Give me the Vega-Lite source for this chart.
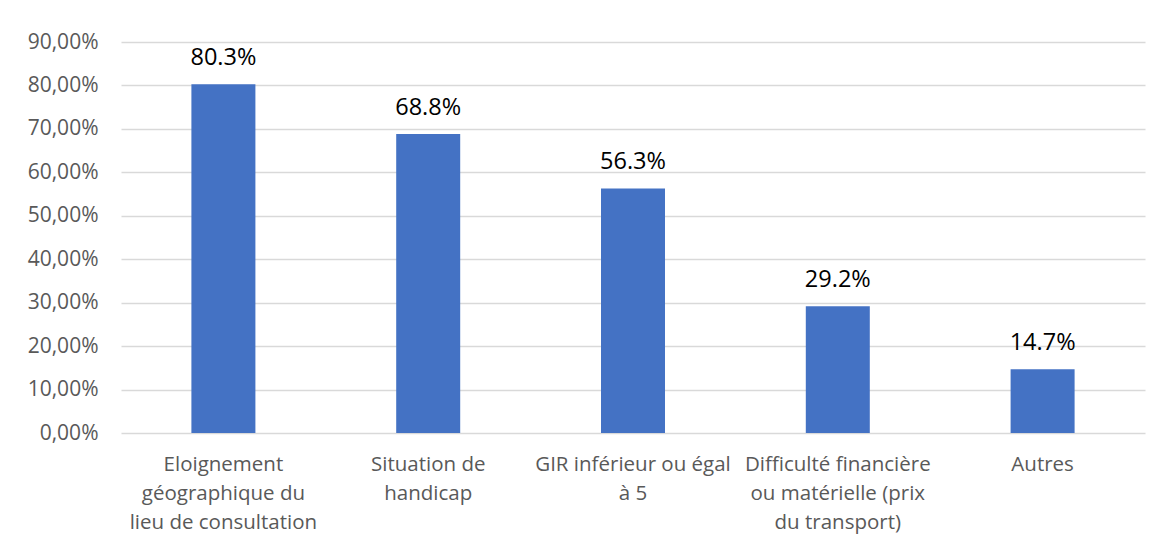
{
  "$schema": "https://vega.github.io/schema/vega-lite/v6.json",
  "autosize": {"type": "none"},
  "width": 1024,
  "height": 391,
  "padding": {"left": 121, "top": 42, "right": 23, "bottom": 113},
  "background": "white",
  "config": {"view": {"stroke": null}, "font": "Open Sans"},
  "data": {"values": [
    {"cat": "Eloignement|géographique du|lieu de consultation", "v": 0.803, "lab": "80.3%"},
    {"cat": "Situation de|handicap", "v": 0.688, "lab": "68.8%"},
    {"cat": "GIR inférieur ou égal|à 5", "v": 0.563, "lab": "56.3%"},
    {"cat": "Difficulté financière|ou matérielle (prix|du transport)", "v": 0.292, "lab": "29.2%"},
    {"cat": "Autres", "v": 0.147, "lab": "14.7%"}
  ]},
  "encoding": {
    "x": {"field": "cat", "type": "nominal", "sort": null,
      "scale": {"paddingInner": 0.6875, "paddingOuter": 0.34375},
      "axis": {"title": null, "labelExpr": "split(datum.label, '|')", "labelAngle": 0,
        "labelFontSize": 20.5, "labelColor": "#595959", "labelLineHeight": 29, "labelBaseline": "top",
        "labelPadding": 21, "ticks": false, "domain": false, "labelLimit": 0}},
    "y": {"field": "v", "type": "quantitative",
      "scale": {"domain": [0, 0.9], "nice": false},
      "axis": {"title": null, "values": [0,0.1,0.2,0.3,0.4,0.5,0.6,0.7,0.8,0.9],
        "labelExpr": "replace(format(datum.value, '.2%'), '.', ',')",
        "labelFontSize": 21, "labelColor": "#595959", "labelPadding": 23,
        "ticks": false, "domain": false, "gridColor": "#d9d9d9", "gridWidth": 1.5}}
  },
  "layer": [
    {"mark": {"type": "bar", "color": "#4472C4"}},
    {"mark": {"type": "text", "baseline": "alphabetic", "dy": -19, "fontSize": 23.5, "color": "#000000"},
     "encoding": {"text": {"field": "lab"}}}
  ]
}
